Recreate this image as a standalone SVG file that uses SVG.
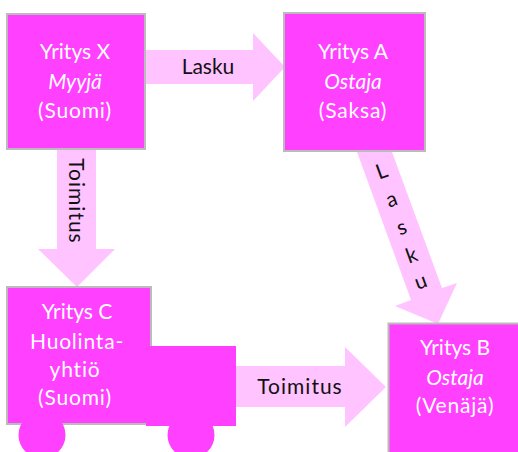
<svg xmlns="http://www.w3.org/2000/svg" width="518" height="452" viewBox="0 0 518 452">
<style>
.box{fill:#FF40FF;stroke:#BBBBBB;stroke-width:2}
.fill{fill:#FF40FF}
.arrow{fill:#FFC4FF}
text{font-family:"Lato","Open Sans","Liberation Sans",sans-serif;font-size:21px;text-anchor:middle;font-variant-ligatures:none}
.w{fill:#FFFFFF}
.k{fill:#111111}
.i{font-style:italic}
.t{letter-spacing:1px}
.s{letter-spacing:.8px}
</style>
<rect width="518" height="452" fill="#FFFFFF"/>
<g id="connectors">
<polygon class="arrow" points="145,50 253,50 253,33 285,67 253,101 253,84 145,84"/>
<polygon class="arrow" points="57,149 96,149 96,249 115,249 77,287 38,249 57,249"/>
<polygon class="arrow" points="236,366 345,366 345,347 386,387 345,427 345,407 236,407"/>
<polygon class="arrow" points="357,152 392,152 442,288 457,283 438,324 395,306 411,300"/>
<text class="k" x="208" y="74">Lasku</text>
<text class="k t" transform="translate(69,201) rotate(90)">Toimitus</text>
<text class="k t" x="300" y="394">Toimitus</text>
<text class="k" transform="translate(384,178) rotate(-20)">L</text>
<text class="k" transform="translate(394,206) rotate(-20)">a</text>
<text class="k" transform="translate(404,234) rotate(-20)">s</text>
<text class="k" transform="translate(414,262) rotate(-20)">k</text>
<text class="k" transform="translate(423,288) rotate(-20)">u</text>
</g>
<g id="node-x">
<rect class="box" x="7" y="14" width="138" height="135"/>
<text class="w" x="75" y="59">Yritys X</text>
<text class="w i" x="75" y="89">Myyjä</text>
<text class="w s" x="75" y="118">(Suomi)</text>
</g>
<g id="node-a">
<rect class="box" x="284" y="13" width="141" height="138"/>
<text class="w" x="353" y="59">Yritys A</text>
<text class="w i" x="353" y="89">Ostaja</text>
<text class="w s" x="353" y="118">(Saksa)</text>
</g>
<g id="node-b">
<rect class="box" x="388.500" y="323.500" width="132" height="132"/>
<text class="w" x="455" y="355">Yritys B</text>
<text class="w i" x="455" y="385">Ostaja</text>
<text class="w s" x="455" y="413">(Venäjä)</text>
</g>
<g id="node-c">
<rect class="box" x="7" y="287" width="144" height="137"/>
<rect class="fill" x="146" y="346" width="90" height="80"/>
<circle class="fill" cx="42" cy="435" r="23.500"/>
<circle class="fill" cx="191" cy="435" r="23.500"/>
<text class="w" x="77" y="319">Yritys C</text>
<text class="w s" x="77" y="349">Huolinta-</text>
<text class="w s" x="75" y="377">yhtiö</text>
<text class="w s" x="75" y="405">(Suomi)</text>
</g>
</svg>
